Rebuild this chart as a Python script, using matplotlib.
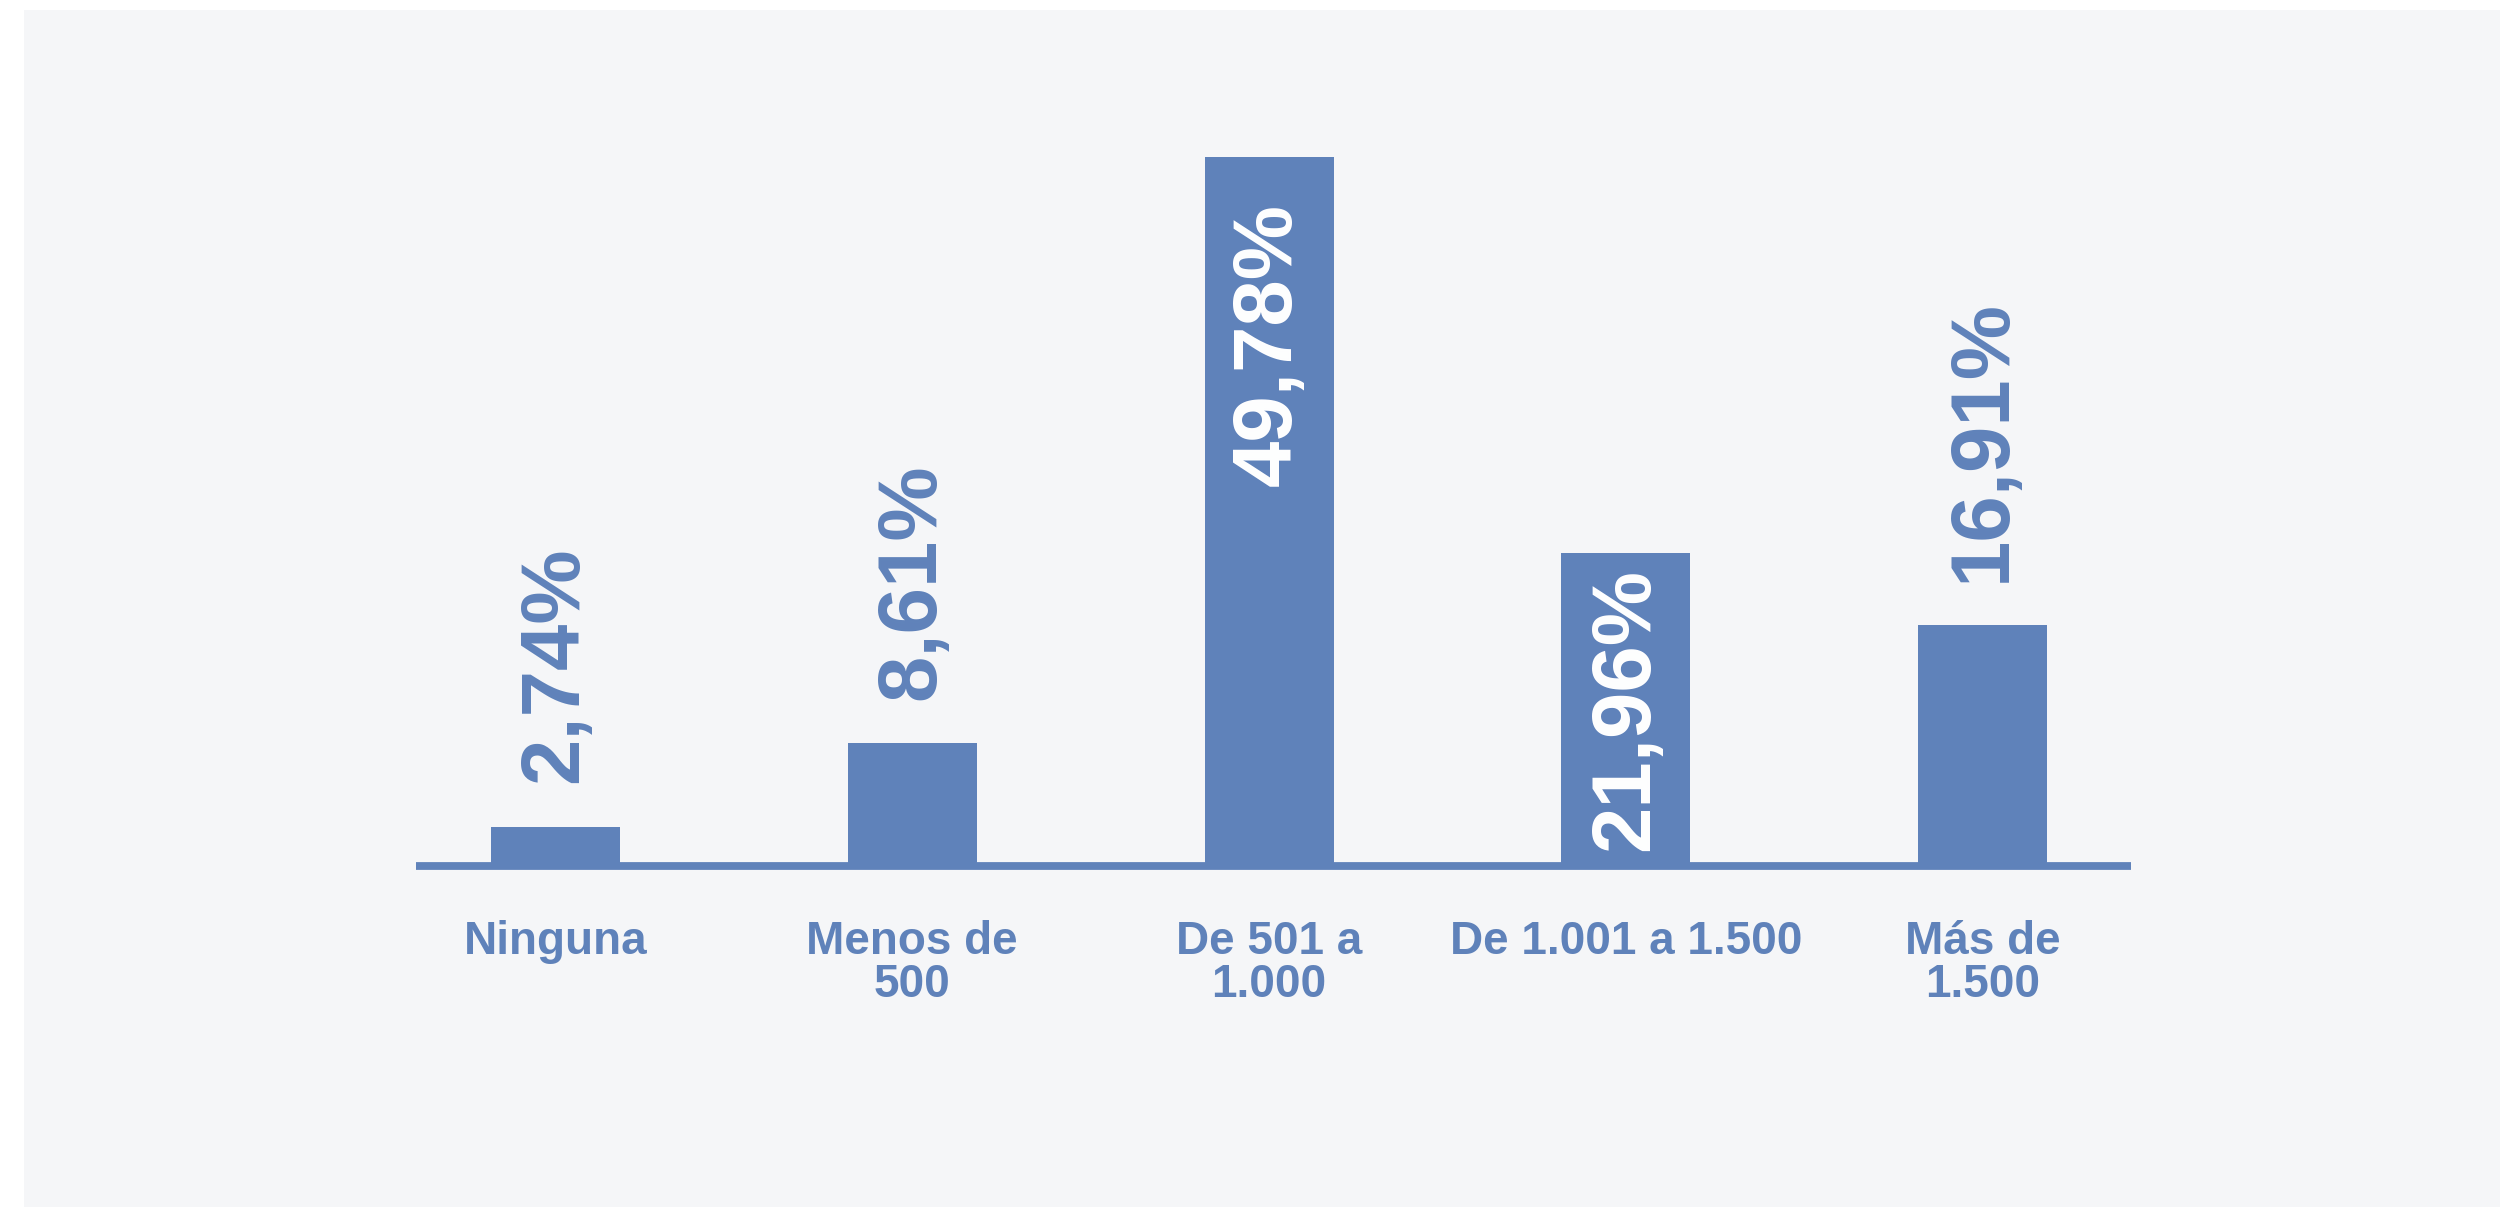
import matplotlib.pyplot as plt
from matplotlib.patches import Rectangle

# Data
categories = ['Ninguna', 'Menos de\n500', 'De 501 a\n1.000', 'De 1.001 a 1.500', 'Más de\n1.500']
values = [2.74, 8.61, 49.78, 21.96, 16.91]
labels = ['2,74%', '8,61%', '49,78%', '21,96%', '16,91%']

BLUE = '#5f82ba'
PANEL = '#f5f6f8'
FONT = 'Liberation Sans'

W, H, DPI = 2500, 1207, 100
fig = plt.figure(figsize=(W / DPI, H / DPI), dpi=DPI, facecolor='white')

# light grey panel behind the chart
fig.patches.append(Rectangle((24 / W, -0.01), 1 - 24 / W + 0.01, (H - 10) / H + 0.01,
                             transform=fig.transFigure, facecolor=PANEL,
                             edgecolor='none', zorder=-10))

ax = fig.add_axes([416 / W, (H - 865.5) / H, 1715 / W, 765 / H])
ax.set_facecolor('none')

x = range(len(values))
ax.bar(x, values, width=0.3616, color=BLUE, zorder=2)

ax.set_xlim(-0.391, 4.416)
ax.set_ylim(0, 53.77)

for side in ['top', 'right', 'left']:
    ax.spines[side].set_visible(False)
ax.spines['bottom'].set_color(BLUE)
ax.spines['bottom'].set_linewidth(5.6)
ax.spines['bottom'].set_capstyle('butt')
ax.set_yticks([])

ax.set_xticks(list(x))
ax.set_xticklabels(categories, fontsize=33, fontweight='bold', color=BLUE,
                   family=FONT, linespacing=0.98)
ax.tick_params(axis='x', length=0, pad=39)

# value labels: white inside the tall bars, blue above the short ones
fig.canvas.draw()
renderer = fig.canvas.get_renderer()
for i, (v, lab) in enumerate(zip(values, labels)):
    if v > 20:
        t = ax.annotate(lab, (i, v), xytext=(0, -33), textcoords='offset points',
                        rotation=90, ha='center', va='top', color='white',
                        fontsize=60, fontweight='bold', family=FONT, zorder=3)
        # keep the label inside the bar if it is too long for the top offset
        bb = t.get_window_extent(renderer)
        y0 = ax.transData.transform((i, 0))[1]
        if bb.y0 < y0 + 10:
            t.remove()
            ax.annotate(lab, (i, v / 2), rotation=90, ha='center', va='center',
                        color='white', fontsize=60, fontweight='bold',
                        family=FONT, zorder=3)
    else:
        ax.annotate(lab, (i, v), xytext=(0, 31), textcoords='offset points',
                    rotation=90, ha='center', va='bottom', color=BLUE,
                    fontsize=60, fontweight='bold', family=FONT, zorder=3)

fig.savefig('out.png', dpi=DPI, facecolor='white')
